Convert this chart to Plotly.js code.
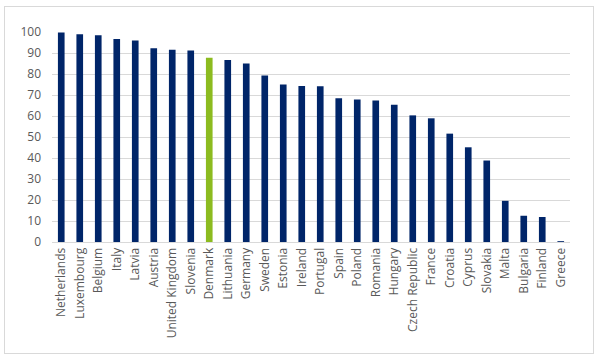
<!DOCTYPE html>
<html>
<head>
<meta charset="utf-8">
<script src="https://cdn.plot.ly/plotly-3.0.1.min.js"></script>
<style>
html,body{margin:0;padding:0;background:#fff;}
#wrap{position:relative;width:600px;height:360px;}
#chart{position:absolute;left:0;top:0;width:600px;height:360px;}
#frame{position:absolute;left:4px;top:6px;width:590px;height:348px;border:1px solid #d9d9d9;pointer-events:none;box-sizing:border-box;}
</style>
</head>
<body>
<div id="wrap"><div id="chart"></div><div id="frame"></div></div>
<script>
var countries = ["Netherlands","Luxembourg","Belgium","Italy","Latvia","Austria","United Kingdom","Slovenia","Denmark","Lithuania","Germany","Sweden","Estonia","Ireland","Portugal","Spain","Poland","Romania","Hungary","Czech Republic","France","Croatia","Cyprus","Slovakia","Malta","Bulgaria","Finland","Greece"];
var values = [99.8,98.9,98.4,96.7,95.9,92.3,91.6,91.2,87.7,86.7,85.0,79.3,75.0,74.3,74.2,68.4,67.9,67.4,65.3,60.3,58.9,51.6,45.1,38.8,19.6,12.5,11.9,0.4];
var highlight = "Denmark";
var yTicks = [0,10,20,30,40,50,60,70,80,90,100];

var colors = countries.map(function(c){ return c === highlight ? "#8cbb1f" : "#002569"; });

var trace = {
  type: "bar",
  x: countries,
  y: values,
  marker: {color: colors},
  hoverinfo: "x+y"
};

var layout = {
  width: 600, height: 360,
  margin: {l: 52, r: 30, t: 32, b: 118},
  paper_bgcolor: "#ffffff",
  plot_bgcolor: "#ffffff",
  bargap: 0.64,
  showlegend: false,
  font: {family: "Open Sans, sans-serif", size: 12, color: "#595959"},
  xaxis: {
    type: "category",
    tickangle: -90,
    showgrid: false,
    showline: true,
    linecolor: "#d9d9d9",
    linewidth: 1,
    ticks: "",
    tickfont: {size: 12, color: "#595959"},
    automargin: false
  },
  yaxis: {
    range: [0, 100],
    tickvals: yTicks,
    ticktext: yTicks.map(String),
    showgrid: true,
    gridcolor: "#d9d9d9",
    gridwidth: 1,
    zeroline: false,
    showline: false,
    ticks: "",
    ticklabelstandoff: 10,
    tickfont: {size: 12, color: "#595959"},
    automargin: false
  }
};

Plotly.newPlot("chart", [trace], layout, {displayModeBar: false, staticPlot: true});
</script>
</body>
</html>
